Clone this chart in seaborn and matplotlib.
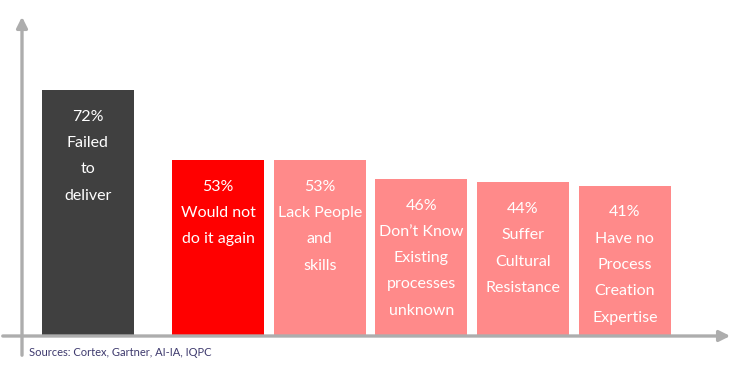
import matplotlib
matplotlib.use("Agg")
import matplotlib.pyplot as plt
import seaborn as sns
import pandas as pd

# values
percents = [72, 53, 53, 46, 44, 41]
# bar heights as drawn in the reference (not fully proportional to the labels)
bar_heights = [72, 51.5, 51.5, 46, 45, 44]
descriptions = [
    "Failed\nto\ndeliver",
    "Would not\ndo it again",
    "Lack People\nand\nskills",
    "Don\u2019t Know\nExisting\nprocesses\nunknown",
    "Suffer\nCultural\nResistance",
    "Have no\nProcess\nCreation\nExpertise",
]
bar_colors = ["#404040", "#FF0000", "#FF8A8A", "#FF8A8A", "#FF8A8A", "#FF8A8A"]
source_note = "Sources: Cortex, Gartner, AI-IA, IQPC"

# first bar sits a bit further away from the rest
xpos = [0, 1.28, 2.28, 3.28, 4.28, 5.28]

df = pd.DataFrame({"pos": xpos, "height": bar_heights, "idx": range(len(xpos))})

sns.set_theme(style="white")
plt.rcParams["font.family"] = ["Lato", "DejaVu Sans"]

fig = plt.figure(figsize=(7.5, 3.66), dpi=100)
ax = fig.add_axes([0, 0, 1, 1])

sns.barplot(data=df, x="pos", y="height", hue="idx", palette=bar_colors,
            native_scale=True, width=0.905, legend=False, ax=ax,
            edgecolor="none", saturation=1)

ax.set_xlim(-0.8636, 6.511)
ax.set_ylim(-8.77, 98.25)
ax.axis("off")

# bar labels
for x, h, p, d in zip(xpos, bar_heights, percents, descriptions):
    ax.text(x, h - 5.8, f"{p}%\n{d}", color="white", ha="center", va="top",
            fontsize=11.5, linespacing=2.12)

# axis arrows in pixel-like figure coordinates
gray = "#ADADAD"
ax.annotate("", xy=(733 / 750, 1 - 336 / 366), xytext=(0, 1 - 336 / 366),
            xycoords="figure fraction",
            arrowprops=dict(arrowstyle="-|>", color=gray, lw=2.4, mutation_scale=16))
ax.annotate("", xy=(22 / 750, 1 - 14 / 366), xytext=(22 / 750, 1 - 358 / 366),
            xycoords="figure fraction",
            arrowprops=dict(arrowstyle="-|>", color=gray, lw=2.4, mutation_scale=16))

fig.text(29 / 750, 1 - 352 / 366, source_note, color="#3E3A6E", fontsize=8,
         ha="left", va="center")

fig.savefig("out.png", dpi=100)
